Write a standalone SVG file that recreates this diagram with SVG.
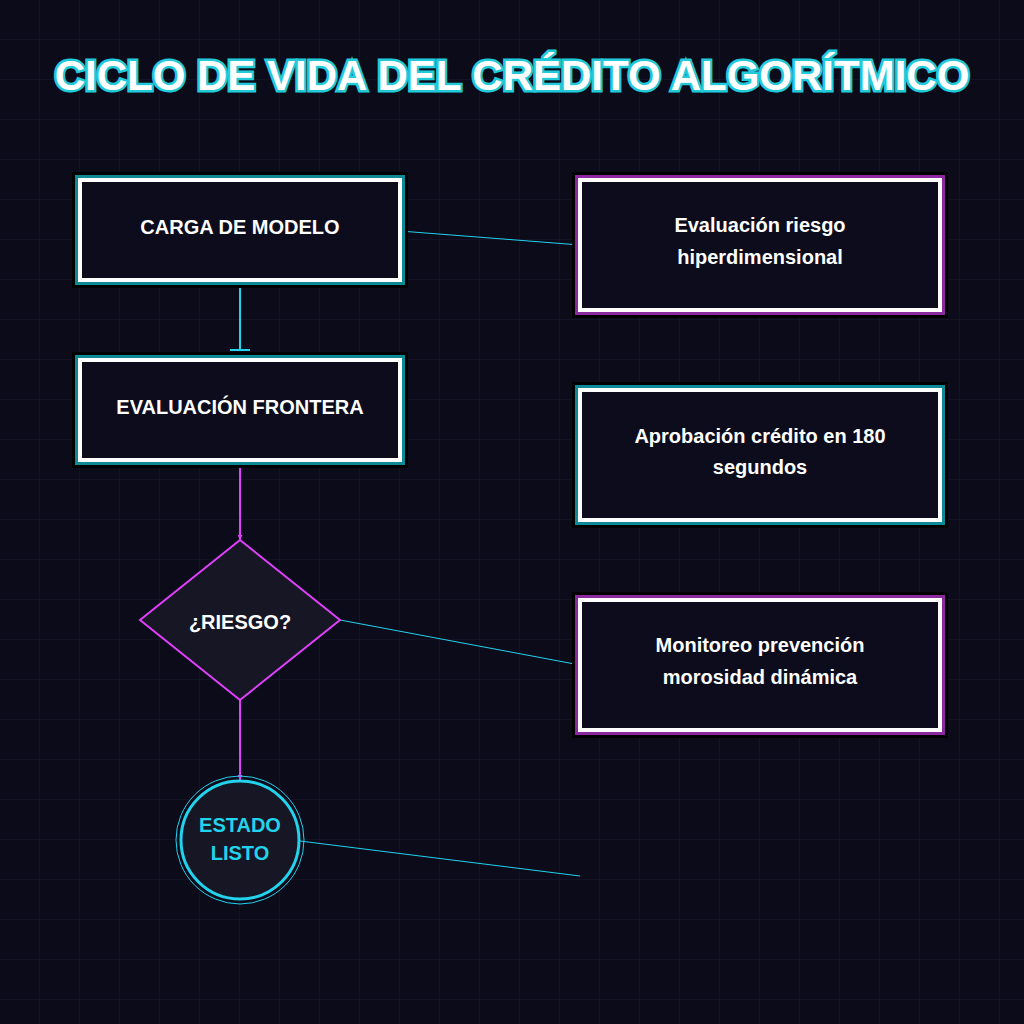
<svg xmlns="http://www.w3.org/2000/svg" width="1024" height="1024" viewBox="0 0 1024 1024">
<defs>
<pattern id="grid" width="40" height="40" patternUnits="userSpaceOnUse"><path d="M40 0V40H0" fill="none" stroke="#1a1a30" stroke-width="1"/></pattern>
<marker id="arr" viewBox="0 0 10 10" refX="10" refY="5" markerWidth="5" markerHeight="5" orient="auto" markerUnits="userSpaceOnUse"><path d="M0 0L10 5L0 10Z" fill="#e040fb"/></marker>
<marker id="tee" viewBox="0 0 4 20" refX="2" refY="10" markerWidth="4" markerHeight="20" orient="auto" markerUnits="userSpaceOnUse"><path d="M2 0V20" stroke="#22d3ee" stroke-width="2"/></marker>
</defs>
<style>
text{font-family:"Liberation Sans",Arial,sans-serif;font-weight:bold;text-anchor:middle}
.lbl{fill:#fff;font-size:20px}
.box{fill:#0c0c1c;stroke:#fff;stroke-width:4}
.gt{fill:none;stroke:#0e8a96;stroke-width:10}
.gm{fill:none;stroke:#8a2a9e;stroke-width:10}
.blk{fill:none;stroke:#000;stroke-width:16}
</style>
<rect width="1024" height="1024" fill="#0b0b1a"/>
<rect width="1024" height="1024" fill="url(#grid)"/>
<text x="512" y="90" font-size="42" fill="#fff" stroke="#22c9d9" stroke-width="5" paint-order="stroke">CICLO DE VIDA DEL CRÉDITO ALGORÍTMICO</text>
<g id="connectors" fill="none">
<line x1="240" y1="280" x2="240" y2="350" stroke="#22d3ee" stroke-width="2" marker-end="url(#tee)"/>
<line x1="240" y1="460" x2="240" y2="540" stroke="#e040fb" stroke-width="2" marker-end="url(#arr)"/>
<line x1="240" y1="700" x2="240" y2="780" stroke="#e040fb" stroke-width="2" marker-end="url(#arr)"/>
<line x1="400" y1="231" x2="580" y2="245" stroke="#22d3ee" stroke-width="1"/>
<line x1="340" y1="620" x2="580" y2="665" stroke="#22d3ee" stroke-width="1"/>
<line x1="300" y1="841" x2="580" y2="876" stroke="#22d3ee" stroke-width="1"/>
</g>
<g id="n1"><rect x="80" y="180" width="320" height="100" class="blk"/><rect x="80" y="180" width="320" height="100" class="gt"/><rect x="80" y="180" width="320" height="100" class="box"/><text x="240" y="234" class="lbl">CARGA DE MODELO</text></g>
<g id="n2"><rect x="80" y="360" width="320" height="100" class="blk"/><rect x="80" y="360" width="320" height="100" class="gt"/><rect x="80" y="360" width="320" height="100" class="box"/><text x="240" y="414" class="lbl">EVALUACIÓN FRONTERA</text></g>
<g id="n3"><path d="M240 540L340 620L240 700L140 620Z" fill="#161624" stroke="#e040fb" stroke-width="2"/><text x="240" y="629" class="lbl">¿RIESGO?</text></g>
<g id="n4"><circle cx="240" cy="840" r="64" fill="none" stroke="#22d3ee" stroke-width="1"/><circle cx="240" cy="840" r="59" fill="#161624" stroke="#22d3ee" stroke-width="3"/><text x="240" y="832" font-size="20" fill="#22d3ee">ESTADO</text><text x="240" y="860" font-size="20" fill="#22d3ee">LISTO</text></g>
<g id="r1"><rect x="580" y="180" width="360" height="130" class="blk"/><rect x="580" y="180" width="360" height="130" class="gm"/><rect x="580" y="180" width="360" height="130" class="box"/><text x="760" y="232" class="lbl">Evaluación riesgo</text><text x="760" y="264" class="lbl">hiperdimensional</text></g>
<g id="r2"><rect x="580" y="390" width="360" height="130" class="blk"/><rect x="580" y="390" width="360" height="130" class="gt"/><rect x="580" y="390" width="360" height="130" class="box"/><text x="760" y="443" class="lbl">Aprobación crédito en 180</text><text x="760" y="474" class="lbl">segundos</text></g>
<g id="r3"><rect x="580" y="600" width="360" height="130" class="blk"/><rect x="580" y="600" width="360" height="130" class="gm"/><rect x="580" y="600" width="360" height="130" class="box"/><text x="760" y="652" class="lbl">Monitoreo prevención</text><text x="760" y="684" class="lbl">morosidad dinámica</text></g>
</svg>
